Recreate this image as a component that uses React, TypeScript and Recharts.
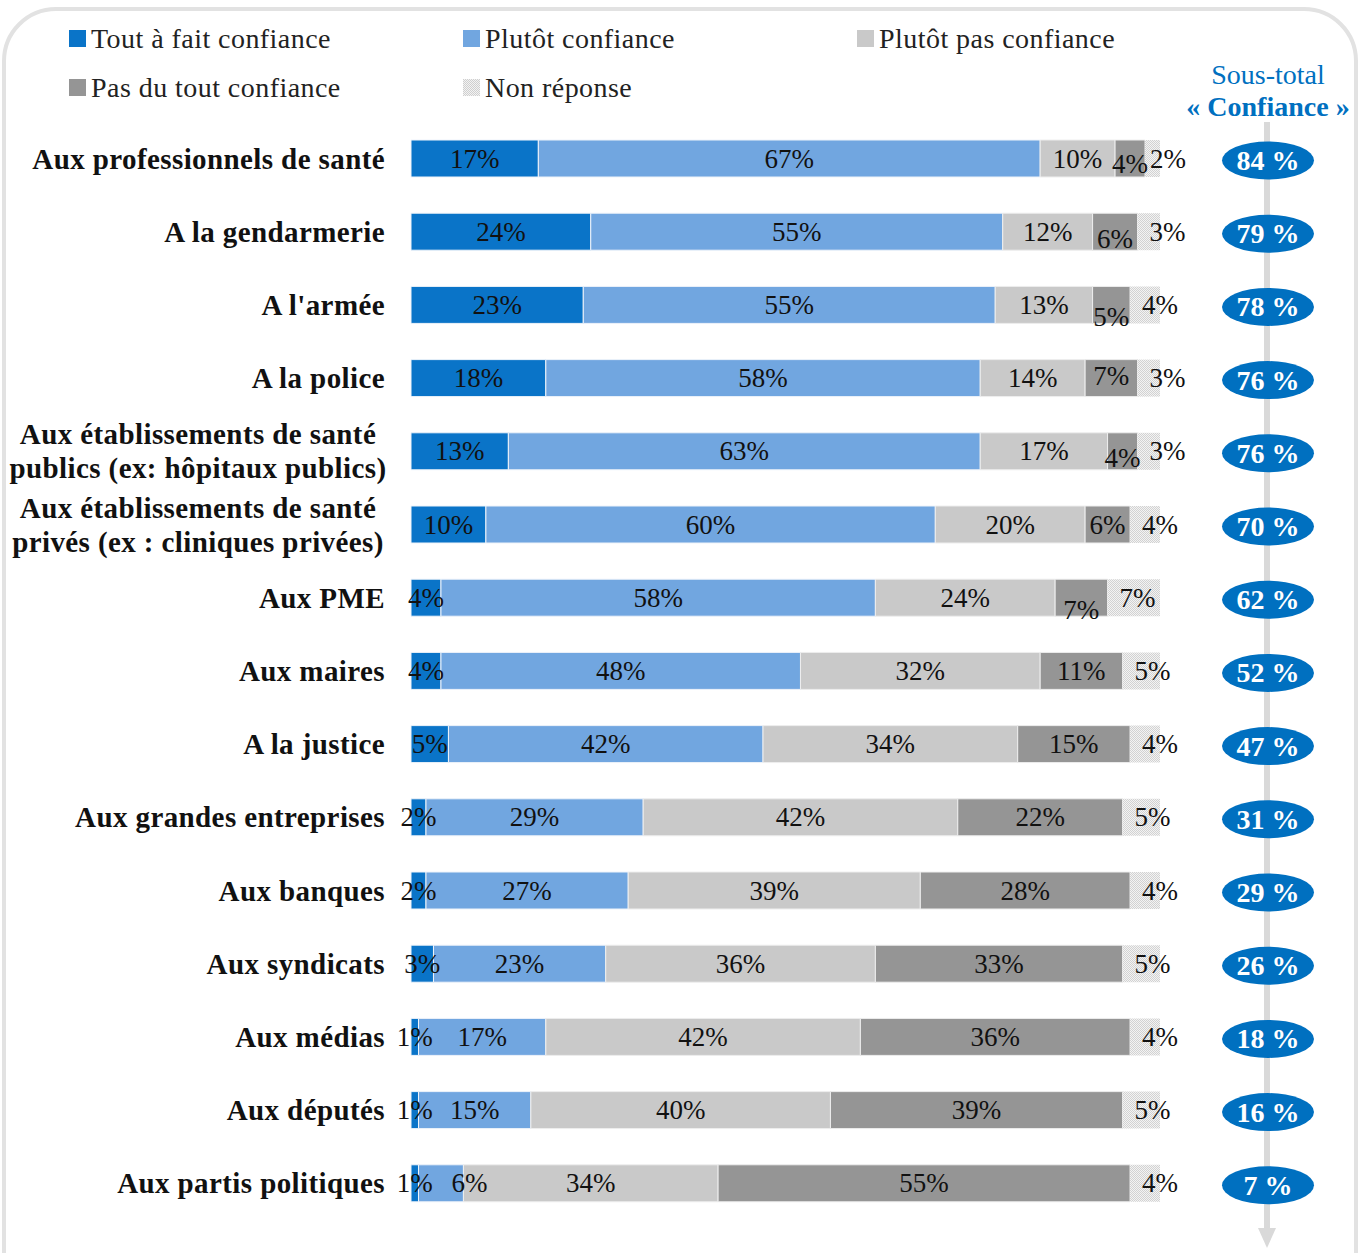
import React from "react";
import { Bar, BarChart, LabelList, XAxis, YAxis } from "recharts";

const INSTITUTIONS = [
  "Aux professionnels de santé",
  "A la gendarmerie",
  "A l'armée",
  "A la police",
  "Aux établissements de santé\npublics (ex: hôpitaux publics)",
  "Aux établissements de santé\nprivés (ex : cliniques privées)",
  "Aux PME",
  "Aux maires",
  "A la justice",
  "Aux grandes entreprises",
  "Aux banques",
  "Aux syndicats",
  "Aux médias",
  "Aux députés",
  "Aux partis politiques",
];

const TOUT_A_FAIT = [17, 24, 23, 18, 13, 10, 4, 4, 5, 2, 2, 3, 1, 1, 1];
const PLUTOT = [67, 55, 55, 58, 63, 60, 58, 48, 42, 29, 27, 23, 17, 15, 6];
const PLUTOT_PAS = [10, 12, 13, 14, 17, 20, 24, 32, 34, 42, 39, 36, 42, 40, 34];
const PAS_DU_TOUT = [4, 6, 5, 7, 4, 6, 7, 11, 15, 22, 28, 33, 36, 39, 55];
const NON_REPONSE = [2, 3, 4, 3, 3, 4, 7, 5, 4, 5, 4, 5, 4, 5, 4];
const SOUS_TOTAL = [84, 79, 78, 76, 76, 70, 62, 52, 47, 31, 29, 26, 18, 16, 7];

const SERIES = [
  { key: "toutAFait", name: "Tout à fait confiance", color: "#0A74C8" },
  { key: "plutot", name: "Plutôt confiance", color: "#71A6E0" },
  { key: "plutotPas", name: "Plutôt pas confiance", color: "#C9C9C9" },
  { key: "pasDuTout", name: "Pas du tout confiance", color: "#959595" },
  { key: "nonReponse", name: "Non réponse", color: "url(#nr-pattern)" },
];

// small vertical nudges Excel applied to some cramped dark-grey labels
const DARK_LABEL_NUDGE = [5, 7, 12, -2, 7, 0, 12, 0, 0, 0, 0, 0, 0, 0, 0];

const FONT = "'Liberation Serif', 'Times New Roman', serif";
const W = 1361;
const H = 1253;
const BUBBLE_X = 1268;

const rows = INSTITUTIONS.map((name, i) => ({
  name,
  toutAFait: TOUT_A_FAIT[i],
  plutot: PLUTOT[i],
  plutotPas: PLUTOT_PAS[i],
  pasDuTout: PAS_DU_TOUT[i],
  nonReponse: NON_REPONSE[i],
  sousTotal: SOUS_TOTAL[i],
}));

function box(props: any) {
  const vb = props.viewBox ?? {};
  return {
    x: Number(props.x ?? vb.x ?? 0),
    y: Number(props.y ?? vb.y ?? 0),
    w: Number(props.width ?? vb.width ?? 0),
    h: Number(props.height ?? vb.height ?? 0),
  };
}

function pct(cx: number, cy: number, value: any) {
  return (
    <text
      x={cx}
      y={cy}
      textAnchor="middle"
      dominantBaseline="central"
      style={{ fontFamily: FONT, fontSize: 27, fontWeight: 400 }}
      fill="#111"
    >
      {`${value}%`}
    </text>
  );
}

function CenterLabel(props: any) {
  const { x, y, w, h } = box(props);
  return pct(x + w / 2, y + h / 2, props.value);
}

function LightBlueLabel(props: any) {
  const { x, y, w, h } = box(props);
  return pct(Math.max(x + w / 2, x + 51), y + h / 2, props.value);
}

function DarkLabel(props: any) {
  const { x, y, w, h } = box(props);
  const dy = DARK_LABEL_NUDGE[props.index] ?? 0;
  return pct(x + w / 2, y + h / 2 + dy, props.value);
}

function NonRepLabel(props: any) {
  const { x, y, w, h } = box(props);
  return pct(Math.min(x + 30, x + w + 8), y + h / 2, props.value);
}

function Bubble(props: any) {
  const { y, h } = box(props);
  const cy = y + h / 2 + 2;
  return (
    <g>
      <ellipse cx={BUBBLE_X} cy={cy} rx={46} ry={19} fill="#0070C0" />
      <text
        x={BUBBLE_X}
        y={cy}
        textAnchor="middle"
        dominantBaseline="central"
        style={{ fontFamily: FONT, fontSize: 28, fontWeight: 700 }}
        fill="#fff"
      >
        {`${props.value} %`}
      </text>
    </g>
  );
}

function CategoryTick(props: any) {
  const { y, payload } = props;
  const lines = String(payload.value).split("\n");
  const st = { fontFamily: FONT, fontSize: 29, fontWeight: 700, letterSpacing: 0.4 };
  if (lines.length === 1) {
    return (
      <text x={385} y={y} textAnchor="end" dominantBaseline="central" style={st} fill="#111">
        {lines[0]}
      </text>
    );
  }
  return (
    <text x={198} y={y} textAnchor="middle" style={st} fill="#111">
      {lines.map((l, i) => (
        <tspan key={i} x={198} y={y - 17 + i * 34} dominantBaseline="central">
          {l}
        </tspan>
      ))}
    </text>
  );
}

function Backdrop() {
  const legendPos = [
    [69, 38],
    [463, 38],
    [857, 38],
    [69, 87],
    [463, 87],
  ];
  return (
    <svg width={W} height={H} style={{ position: "absolute", left: 0, top: 0 }}>
      <defs>
        <pattern id="nr-legend" width="2" height="2" patternUnits="userSpaceOnUse">
          <rect width="2" height="2" fill="#f3f3f3" />
          <rect width="1" height="1" fill="#cfcfcf" />
          <rect x="1" y="1" width="1" height="1" fill="#cfcfcf" />
        </pattern>
      </defs>
      <rect x={4} y={9} width={1352} height={1300} rx={52} ry={52} fill="#fff" stroke="#e2e2e2" strokeWidth={4} />
      {SERIES.map((s, i) => (
        <g key={s.key}>
          <rect
            x={legendPos[i][0]}
            y={legendPos[i][1] - 8}
            width={17}
            height={17}
            fill={s.key === "nonReponse" ? "url(#nr-legend)" : s.color}
          />
          <text
            x={legendPos[i][0] + 22}
            y={legendPos[i][1]}
            dominantBaseline="central"
            style={{ fontFamily: FONT, fontSize: 28, fontWeight: 400, letterSpacing: 0.45 }}
            fill="#222"
          >
            {s.name}
          </text>
        </g>
      ))}
      <text x={1268} y={74} textAnchor="middle" dominantBaseline="central" style={{ fontFamily: FONT, fontSize: 28 }} fill="#0070C0">
        Sous-total
      </text>
      <text x={1268} y={106} textAnchor="middle" dominantBaseline="central" style={{ fontFamily: FONT, fontSize: 28, fontWeight: 700 }} fill="#0070C0">
        « Confiance »
      </text>
      <rect x={1264} y={122} width={6} height={1108} fill="#d9d9d9" />
      <polygon points="1258,1228 1276,1228 1267,1248" fill="#d9d9d9" />
    </svg>
  );
}

export default function App() {
  return (
    <div style={{ position: "absolute", left: 0, top: 0, width: W, height: H, background: "#fff" }}>
      <Backdrop />
      <div style={{ position: "absolute", left: 0, top: 0 }}>
        <BarChart
          width={W}
          height={H}
          layout="vertical"
          data={rows}
          margin={{ top: 122, right: 201, bottom: 33, left: 0 }}
          barSize={37}
        >
          <defs>
            <pattern id="nr-pattern" width="2" height="2" patternUnits="userSpaceOnUse">
              <rect width="2" height="2" fill="#f3f3f3" />
              <rect width="1" height="1" fill="#d2d2d2" />
              <rect x="1" y="1" width="1" height="1" fill="#d2d2d2" />
            </pattern>
          </defs>
          <XAxis type="number" domain={[0, 100]} hide />
          <YAxis
            type="category"
            dataKey="name"
            width={411}
            axisLine={false}
            tickLine={false}
            interval={0}
            tick={<CategoryTick />}
          />
          <Bar dataKey="toutAFait" stackId="a" fill={SERIES[0].color} stroke="#eef3fa" strokeWidth={1} isAnimationActive={false}>
            <LabelList dataKey="toutAFait" content={<CenterLabel />} />
          </Bar>
          <Bar dataKey="plutot" stackId="a" fill={SERIES[1].color} stroke="#eef3fa" strokeWidth={1} isAnimationActive={false}>
            <LabelList dataKey="plutot" content={<LightBlueLabel />} />
          </Bar>
          <Bar dataKey="plutotPas" stackId="a" fill={SERIES[2].color} stroke="#eeeeee" strokeWidth={1} isAnimationActive={false}>
            <LabelList dataKey="plutotPas" content={<CenterLabel />} />
          </Bar>
          <Bar dataKey="pasDuTout" stackId="a" fill={SERIES[3].color} stroke="#eeeeee" strokeWidth={1} isAnimationActive={false}>
            <LabelList dataKey="pasDuTout" content={<DarkLabel />} />
          </Bar>
          <Bar dataKey="nonReponse" stackId="a" fill={SERIES[4].color} isAnimationActive={false}>
            <LabelList dataKey="nonReponse" content={<NonRepLabel />} />
            <LabelList dataKey="sousTotal" content={<Bubble />} />
          </Bar>
        </BarChart>
      </div>
    </div>
  );
}
